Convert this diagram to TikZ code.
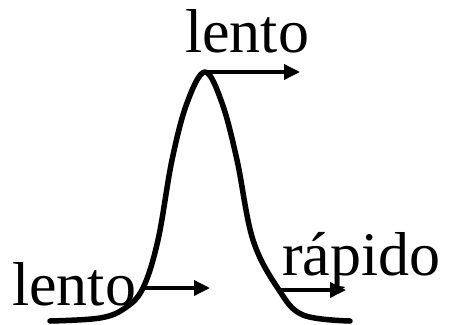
\documentclass[tikz,border=0pt]{standalone}
\usepackage{fontspec}
\setmainfont{Liberation Serif}
\usetikzlibrary{arrows.meta}
\begin{document}
\begin{tikzpicture}[x=1pt,y=-1pt,
  lbl/.style={inner sep=0pt,anchor=base west,font=\fontsize{62}{70}\selectfont},
  curve/.style={line width=5.5pt,line cap=round,line join=round},
  arr/.style={line width=3.5pt,-{Triangle[length=16pt,width=15pt]}}]
\useasboundingbox (0,0) rectangle (449,324);
\node[lbl] (top) at (185,52) {lento};
\node[lbl] (left) at (12,305) {lento};
\node[lbl] (right) at (282,275) {rápido};
\draw[curve] plot[smooth,tension=0.6] coordinates {(50,321) (100,318) (125,308) (143,288) (158,240) (172,160) (187,103) (205,72) (222,103) (237,160) (253,240) (279,290) (303,315) (350,321)};
\coordinate (p1) at (205,72);
\coordinate (q1) at (300,72);
\coordinate (p2) at (143,288);
\coordinate (q2) at (210,288);
\coordinate (p3) at (279,290);
\coordinate (q3) at (346,290);
\draw[arr] (p1) -- (q1);
\draw[arr] (p2) -- (q2);
\draw[arr] (p3) -- (q3);
\end{tikzpicture}
\end{document}
